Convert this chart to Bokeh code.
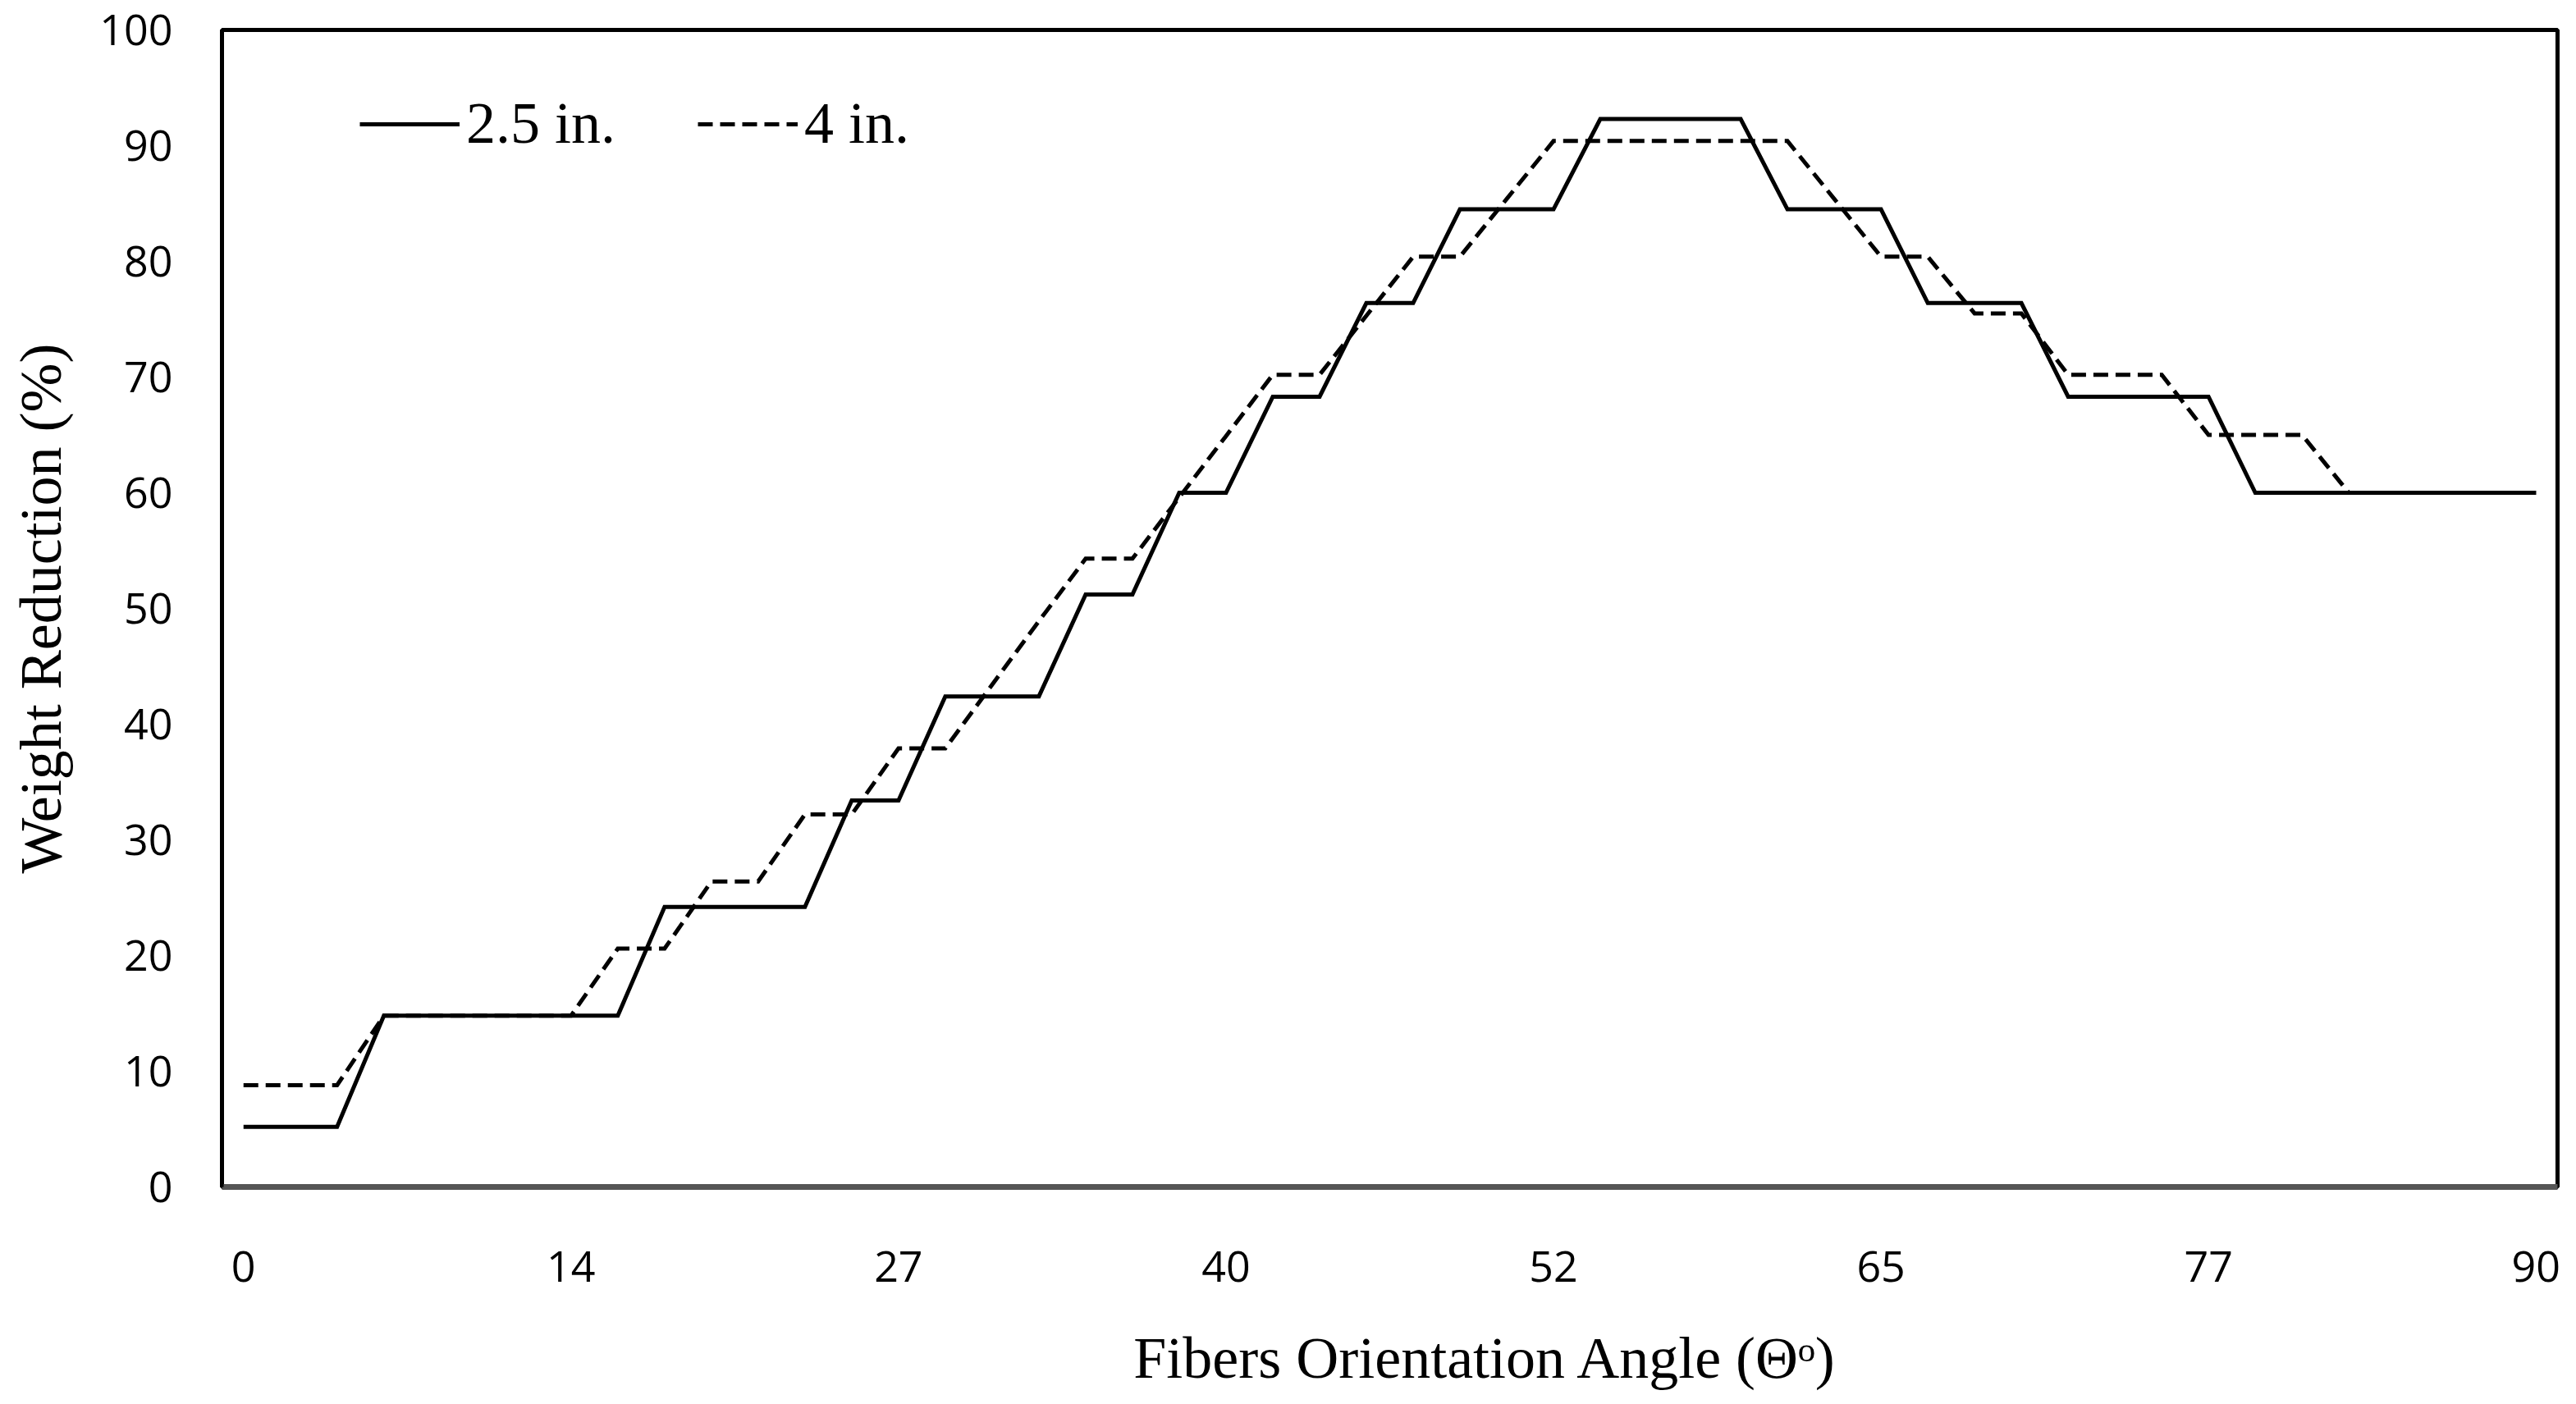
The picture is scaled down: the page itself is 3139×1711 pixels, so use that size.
from bokeh.plotting import figure
from bokeh.models import FixedTicker, Range1d, Legend, LegendItem
from bokeh.embed import file_html
from bokeh.resources import INLINE

# category positions (evenly spaced points along the angle axis)
point_index = list(range(50))
tick_positions = [0, 7, 14, 21, 28, 35, 42, 49]
tick_labels = ["0", "14", "27", "40", "52", "65", "77", "90"]
y_ticks = [0, 10, 20, 30, 40, 50, 60, 70, 80, 90, 100]

# 2.5 in. series
wr_25 = [5.2, 5.2, 5.2,
         14.8, 14.8, 14.8, 14.8, 14.8, 14.8,
         24.2, 24.2, 24.2, 24.2,
         33.4, 33.4,
         42.4, 42.4, 42.4,
         51.2, 51.2,
         60.0, 60.0,
         68.3, 68.3,
         76.4, 76.4,
         84.5, 84.5, 84.5,
         92.3, 92.3, 92.3, 92.3,
         84.5, 84.5, 84.5,
         76.4, 76.4, 76.4,
         68.3, 68.3, 68.3, 68.3,
         60.0, 60.0, 60.0, 60.0, 60.0, 60.0, 60.0]

# 4 in. series
wr_4 = [8.8, 8.8, 8.8,
        14.8, 14.8, 14.8, 14.8, 14.8,
        20.6, 20.6,
        26.4, 26.4,
        32.2, 32.2,
        37.9, 37.9,
        43.4, 48.9,
        54.3, 54.3,
        59.6, 64.9,
        70.2, 70.2,
        75.3,
        80.4, 80.4,
        85.4,
        90.4, 90.4, 90.4, 90.4, 90.4, 90.4,
        85.4,
        80.4, 80.4,
        75.5, 75.5,
        70.2, 70.2, 70.2,
        65.0, 65.0, 65.0,
        60.0, 60.0, 60.0, 60.0, 60.0]

SERIF = "Liberation Serif"
SANS = "Open Sans"

p = figure(width=3128, height=1705, output_backend="svg", toolbar_location=None,
           x_range=Range1d(-0.46, 49.46), y_range=Range1d(0, 100),
           min_border_left=270, min_border_right=12, min_border_top=36, min_border_bottom=259)

p.xgrid.visible = False
p.ygrid.visible = False
p.outline_line_color = "black"
p.outline_line_width = 5
p.background_fill_color = "white"
p.border_fill_color = "white"

r1 = p.line(point_index, wr_25, line_color="black", line_width=5, line_join="miter")
r2 = p.line(point_index, wr_4, line_color="black", line_width=5, line_dash="18 9", line_join="miter")

# axes
p.xaxis.ticker = FixedTicker(ticks=tick_positions)
p.xaxis.major_label_overrides = {t: l for t, l in zip(tick_positions, tick_labels)}
p.yaxis.ticker = FixedTicker(ticks=y_ticks)
for ax in (p.xaxis[0], p.yaxis[0]):
    ax.major_tick_out = 0
    ax.major_tick_in = 0
    ax.minor_tick_out = 0
    ax.minor_tick_in = 0
    ax.major_label_text_font = SANS
    ax.major_label_text_font_size = "52px"
    ax.major_label_text_color = "black"
    ax.axis_label_text_font = SERIF
    ax.axis_label_text_font_size = "72px"
    ax.axis_label_text_font_style = "normal"
    ax.axis_label_text_color = "black"

p.xaxis.axis_line_color = "#555555"
p.xaxis.axis_line_width = 7
p.yaxis.axis_line_color = "black"
p.yaxis.axis_line_width = 4

# the reference title sits right of the axis centre; leading no-break spaces shift it
p.xaxis.axis_label = "\u00a0" * 13 + "Fibers Orientation Angle (\u0398\u1d52)"
p.yaxis.axis_label = "Weight Reduction (%)"
p.xaxis.major_label_standoff = 78
p.xaxis.axis_label_standoff = 50
p.yaxis.major_label_standoff = 60
p.yaxis.axis_label_standoff = 28

legend = Legend(items=[LegendItem(label="2.5 in.", renderers=[r1]),
                       LegendItem(label="4 in.", renderers=[r2])],
                location=(168, 1254), orientation="horizontal",
                glyph_width=122, glyph_height=80, label_standoff=8, spacing=100,
                padding=0, margin=0, border_line_alpha=0, background_fill_alpha=0,
                label_text_font=SERIF, label_text_font_size="72px", label_text_color="black")
p.add_layout(legend)

open("out.html", "w").write(file_html(p, INLINE))
